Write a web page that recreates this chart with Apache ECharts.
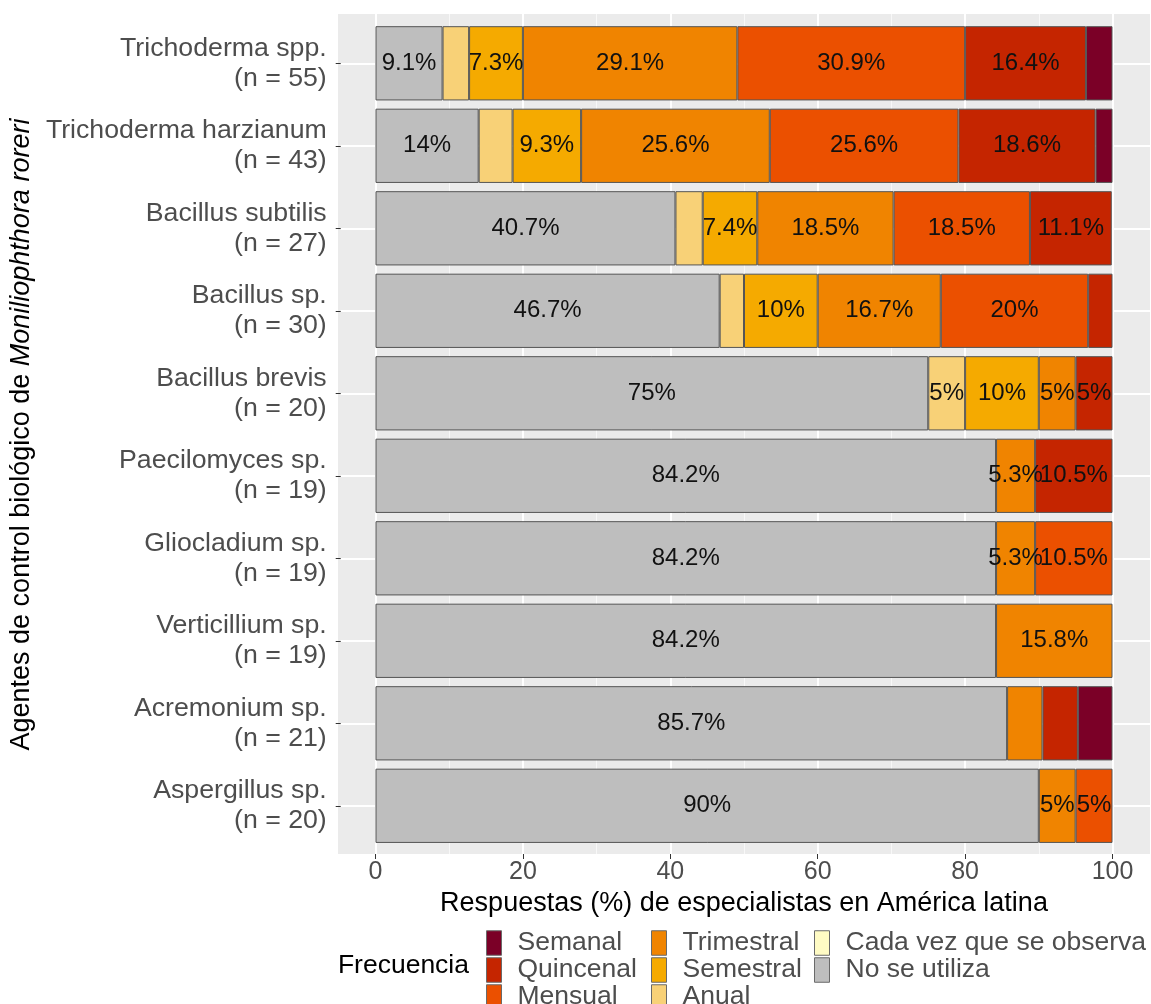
<!DOCTYPE html>
<html>
<head>
<meta charset="utf-8">
<script src="https://cdn.jsdelivr.net/npm/echarts@6/dist/echarts.min.js"></script>
<style>html,body{margin:0;padding:0;background:#fff}#c{width:1151px;height:1004px}</style>
</head>
<body>
<div id="c"></div>
<script>
const species = ['Trichoderma spp.', 'Trichoderma harzianum', 'Bacillus subtilis', 'Bacillus sp.', 'Bacillus brevis', 'Paecilomyces sp.', 'Gliocladium sp.', 'Verticillium sp.', 'Acremonium sp.', 'Aspergillus sp.'];
const nCounts = [55, 43, 27, 30, 20, 19, 19, 19, 21, 20];

const noUtiliza  = [9.1, 14, 40.7, 46.7, 75, 84.2, 84.2, 84.2, 85.7, 90];
const cadaVez    = [0, 0, 0, 0, 0, 0, 0, 0, 0, 0];
const anual      = [3.6, 4.6, 3.7, 3.3, 5, 0, 0, 0, 0, 0];
const semestral  = [7.3, 9.3, 7.4, 10, 10, 0, 0, 0, 0, 0];
const trimestral = [29.1, 25.6, 18.5, 16.7, 5, 5.3, 5.3, 15.8, 4.8, 5];
const mensual    = [30.9, 25.6, 18.5, 20, 0, 0, 10.5, 0, 0, 5];
const quincenal  = [16.4, 18.6, 11.1, 3.3, 5, 10.5, 0, 0, 4.8, 0];
const semanal    = [3.6, 2.3, 0, 0, 0, 0, 0, 0, 4.7, 0];

const xTicks = [0, 20, 40, 60, 80, 100];

const seriesDefs = [
  ['No se utiliza', noUtiliza, '#BEBEBE'],
  ['Cada vez que se observa', cadaVez, '#FFFBC4'],
  ['Anual', anual, '#F8D177'],
  ['Semestral', semestral, '#F5AA00'],
  ['Trimestral', trimestral, '#F08400'],
  ['Mensual', mensual, '#EB5000'],
  ['Quincenal', quincenal, '#C52500'],
  ['Semanal', semanal, '#7B0027']
];

const categories = species.map((s, i) => s + '\n(n = ' + nCounts[i] + ')');
const FONT = '"Liberation Sans", Arial, sans-serif';

const chart = echarts.init(document.getElementById('c'), null, {renderer: 'canvas'});

const PL = 338, PT = 14, PW = 812, PH = 840;   // panel
const X0 = 375.5, XW = 737;                     // 0..100 span
const BAND = 82.5;
const firstC = 63.3;

const legendCommon = {
  orient: 'vertical', icon: 'rect', itemWidth: 15, itemHeight: 24.5, itemGap: 0,
  padding: 0, selectedMode: false, height: 90,
  itemStyle: {borderColor: '#6a6a6a', borderWidth: 1},
  textStyle: {fontSize: 26.5, color: '#4D4D4D', fontFamily: FONT, lineHeight: 24.5, padding: [0, 0, 0, 11]}
};

const option = {
  animation: false,
  textStyle: {fontFamily: FONT},
  graphic: [
    {type: 'rect', z: -10, silent: true, shape: {x: PL, y: PT, width: PW, height: PH}, style: {fill: '#EBEBEB'}},
    {type: 'text', z: 10, silent: true, x: 469, y: 966,
     style: {text: 'Frecuencia', fontSize: 26.5, fill: '#000', fontFamily: FONT, align: 'right', verticalAlign: 'middle'}}
  ],
  grid: [
    {left: X0, top: PT, width: XW, height: PH},
    {left: PL, top: firstC, width: PW, height: BAND * 9},
    {left: X0, top: firstC - BAND / 2, width: XW, height: BAND * 10}
  ],
  xAxis: [
    {gridIndex: 0, type: 'value', min: 0, max: 100, interval: 20,
     axisLine: {show: false},
     axisTick: {show: true, length: 5, lineStyle: {color: '#333', width: 1}},
     axisLabel: {fontSize: 25, color: '#4D4D4D', margin: 6, formatter: v => xTicks.includes(v) ? String(v) : ''},
     splitLine: {show: true, lineStyle: {color: '#FFFFFF', width: 2}},
     minorTick: {show: false, splitNumber: 2},
     minorSplitLine: {show: true, lineStyle: {color: '#F8F8F8', width: 1}},
     name: 'Respuestas (%) de especialistas en América latina', nameLocation: 'middle', nameGap: 29,
     nameTextStyle: {fontSize: 27, color: '#000', fontFamily: FONT}},
    {gridIndex: 1, type: 'value', show: false, min: 0, max: 1},
    {gridIndex: 2, type: 'value', show: false, min: 0, max: 100}
  ],
  yAxis: [
    {gridIndex: 0, type: 'value', show: false, min: 0, max: 1},
    {gridIndex: 1, type: 'category', data: categories, inverse: true, boundaryGap: false,
     axisLine: {show: false},
     axisTick: {show: true, length: 5, lineStyle: {color: '#333', width: 1}},
     axisLabel: {fontSize: 26.7, color: '#4D4D4D', lineHeight: 30, margin: 14, align: 'right', interval: 0,
                 padding: [6, 0, 0, 0]},
     splitLine: {show: true, lineStyle: {color: '#FFFFFF', width: 2}},
     name: '{a|Agentes de control biológico de }{b|Moniliophthora roreri}',
     nameLocation: 'middle', nameGap: 300, nameRotate: 90,
     nameTextStyle: {fontSize: 27, color: '#000', fontFamily: FONT,
       rich: {a: {fontSize: 27, color: '#000', fontFamily: FONT},
              b: {fontSize: 27, color: '#000', fontFamily: FONT, fontStyle: 'italic'}}}},
    {gridIndex: 2, type: 'category', data: categories, inverse: true, show: false}
  ],
  legend: [
    Object.assign({}, legendCommon, {left: 486, top: 929.5, data: ['Semanal', 'Quincenal', 'Mensual']}),
    Object.assign({}, legendCommon, {left: 651, top: 929.5, data: ['Trimestral', 'Semestral', 'Anual']}),
    Object.assign({}, legendCommon, {left: 814, top: 929.5, data: ['Cada vez que se observa', 'No se utiliza']})
  ],
  series: seriesDefs.map(([name, vals, color]) => ({
    name, type: 'bar', stack: 'total', xAxisIndex: 2, yAxisIndex: 2,
    barWidth: '90%',
    data: vals.map(v => v > 0 ? v : '-'),
    itemStyle: {color, borderColor: '#555', borderWidth: 1},
    label: {show: true, position: 'inside', fontSize: 24, color: '#111', fontFamily: FONT,
      formatter: p => (p.value >= 5 ? p.value + '%' : '')},
    emphasis: {disabled: true}
  }))
};

chart.setOption(option);
</script>
</body>
</html>
